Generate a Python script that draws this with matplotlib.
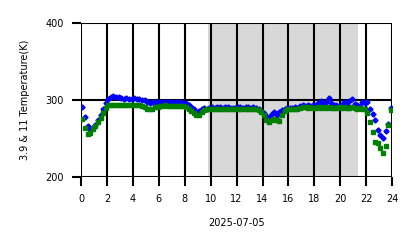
import numpy as np
import matplotlib
matplotlib.use("Agg")
import matplotlib.pyplot as plt

# sample times (hours of the day)
hours = np.round(np.arange(0.1, 24.0, 0.2), 1)

# 3.9 micron brightness temperature (K)
t39 = [291, 278, 266, 262, 264, 268, 274, 281, 288, 296,
       301, 304, 305, 304, 304, 303, 302, 303, 302, 302,
       303, 302, 301, 300, 300, 298, 296, 297, 297, 298,
       298, 297, 298, 298, 297, 297, 298, 297, 297, 296,
       296, 294, 291, 288, 285, 286, 289, 290, 289, 290,
       291, 290, 291, 291, 290, 291, 291, 290, 290, 290,
       291, 291, 290, 291, 291, 290, 291, 290, 288, 286,
       283, 279, 278, 282, 284, 281, 284, 287, 289, 290,
       290, 290, 291, 290, 292, 293, 292, 293, 292, 294,
       293, 296, 299, 294, 297, 303, 296, 293, 294, 292,
       294, 297, 294, 299, 302, 295, 293, 292, 297, 296,
       297, 288, 282, 274, 261, 255, 251, 260, 269, 290]

# 11 micron brightness temperature (K)
t11 = [275, 264, 256, 257, 262, 266, 271, 277, 283, 290,
       293, 294, 294, 294, 294, 294, 294, 294, 294, 294,
       293, 293, 293, 292, 291, 289, 288, 289, 291, 291,
       292, 292, 293, 292, 292, 292, 292, 292, 292, 292,
       291, 289, 286, 283, 281, 281, 284, 287, 288, 288,
       289, 289, 288, 289, 289, 289, 288, 289, 289, 289,
       289, 289, 288, 289, 289, 289, 288, 289, 287, 285,
       280, 274, 271, 274, 275, 274, 273, 281, 286, 288,
       288, 289, 289, 289, 290, 291, 291, 290, 291, 290,
       290, 291, 290, 291, 290, 291, 290, 290, 290, 291,
       290, 291, 290, 290, 291, 290, 289, 290, 289, 289,
       283, 271, 258, 245, 244, 238, 231, 240, 268, 287]

night_start, night_end = 9.8, 21.4

fig = plt.figure(figsize=(4.18, 2.48), dpi=100)
ax = fig.add_axes([0.194, 0.286, 0.744, 0.621])

ax.axvspan(night_start, night_end, color="gray", alpha=0.3, lw=0, zorder=0)
ax.plot(hours, t39, ls="none", marker="D", ms=2.6, color="blue", zorder=3)
ax.plot(hours, t11, ls="none", marker="s", ms=2.4, color="green", zorder=4)

ax.set_xlim(0, 24)
ax.set_ylim(200, 400)
ax.set_xticks(range(0, 25, 2))
ax.set_yticks([200, 300, 400])
ax.grid(True, color="black", lw=1.5, zorder=2)
ax.set_axisbelow(False)
for s in ax.spines.values():
    s.set_visible(False)
ax.tick_params(axis="both", length=6.5, width=1.5, labelsize=7, pad=6)

ax.set_xlabel("2025-07-05", fontsize=7, labelpad=10)
ax.set_ylabel("3.9 & 11 Temperature(K)", fontsize=7, labelpad=11)

fig.savefig("out.png", dpi=100)
